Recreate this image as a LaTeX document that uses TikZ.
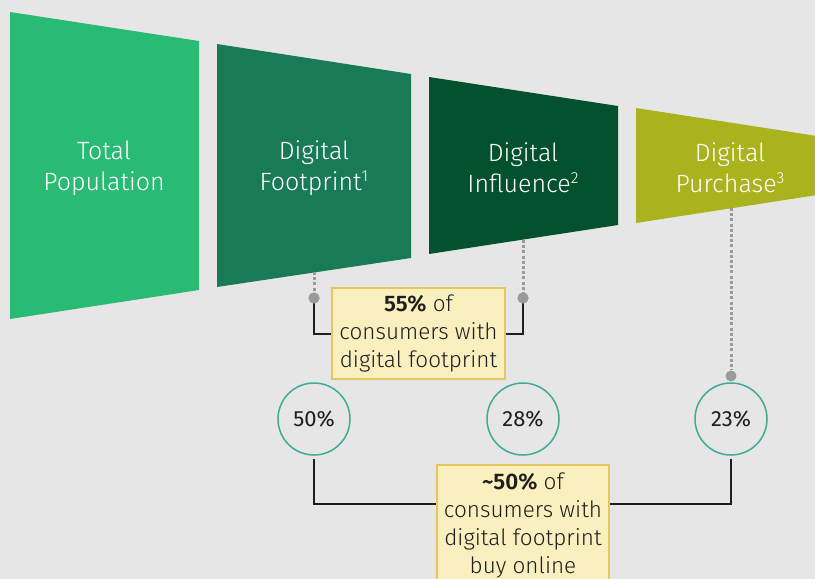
\documentclass[tikz,border=0pt]{standalone}
\usepackage{fontspec}
\setmainfont{Fira Sans}[UprightFont={* Light}, BoldFont={* SemiBold}]
\newfontfamily\regfont{Fira Sans}
\usetikzlibrary{calc}
\definecolor{bg}{HTML}{E6E6E6}
\definecolor{fa}{HTML}{29BA74}
\definecolor{fb}{HTML}{197A56}
\definecolor{fc}{HTML}{03522D}
\definecolor{fd}{HTML}{AAB31E}
\definecolor{boxfill}{HTML}{FAEFBF}
\definecolor{boxline}{HTML}{E5C75E}
\definecolor{ring}{HTML}{3EAD92}
\definecolor{dotgray}{HTML}{9A9A9A}
\definecolor{ink}{HTML}{1E1E1E}
\newcommand{\supnum}[1]{\raisebox{0.36em}{\fontsize{16}{16}\selectfont #1}}
\begin{document}
\begin{tikzpicture}[x=1pt,y=-1pt,
  funlabel/.style={text=white, align=center, font=\fontsize{25}{31}\selectfont},
  callout/.style={draw=boxline, line width=1.5pt, fill=boxfill, text=ink, align=center,
    font=\fontsize{22.5}{28}\selectfont, inner sep=2pt},
  ringnode/.style={circle, draw=ring, line width=1.5pt, minimum size=72pt, inner sep=0pt,
    text=ink, font=\regfont\fontsize{22}{25}\selectfont},
  dotnode/.style={circle, fill=dotgray, minimum size=11pt, inner sep=0pt},
  dotline/.style={dotgray, line width=3pt, dash pattern=on 3pt off 2.2pt},
  link/.style={ink, line width=2pt}]
\useasboundingbox (0,0) rectangle (815,579);
\clip (0,0) rectangle (815,579);
\fill[bg] (0,0) rectangle (815,579);
% funnel segments
\fill[fa] (10,12) -- (199,41) -- (199,290) -- (10,319) -- cycle;
\fill[fb] (217,44) -- (411,74) -- (411,258) -- (217,287) -- cycle;
\fill[fc] (429,77) -- (618,106) -- (618,225) -- (429,254) -- cycle;
\fill[fd] (636,108) -- (830,138) -- (830,193) -- (636,223) -- cycle;
% labels
\node[funlabel] (tp) at (104,168) {Total\\Population};
\node[funlabel] (df) at (314,168) {Digital\\Footprint\supnum{1}};
\node[funlabel] (di) at (523,168) {Digital\\Influence\supnum{2}};
\node[funlabel] (dp) at (730,168) {Digital\\Purchase\supnum{3}};
% anchor points on funnel bottoms
\coordinate (fbot) at (314,272);
\coordinate (ibot) at (523,240);
\coordinate (pbot) at (731,208);
% dots
\node[dotnode] (d1) at (314,298) {};
\node[dotnode] (d2) at (523,298) {};
\node[dotnode] (d3) at (731,376) {};
% callout 1
\node[callout, minimum width=173pt, minimum height=91pt] (b1) at (418.5,333.5)
  {\textbf{55\%} of\\consumers with\\digital footprint};
% rings
\node[ringnode] (r50) at (314,419) {50\%};
\node[ringnode] (r28) at (523,419) {28\%};
\node[ringnode] (r23) at (731,419) {23\%};
% callout 2
\node[callout, minimum width=172pt, minimum height=122pt, anchor=north] (b2) at (523,464)
  {\textbf{\textasciitilde50\%} of\\consumers with\\digital footprint\\buy online};
% connectors
\draw[dotline] (fbot) -- (d1);
\draw[dotline] (ibot) -- (d2);
\draw[dotline] (pbot) -- (d3);
\draw[link] (d1.center) |- (b1.west);
\draw[link] (d2.center) |- (b1.east);
\draw[link] ([yshift=-3pt]r50.south) |- ([yshift=-40pt]b2.north west);
\draw[link] ([yshift=-3pt]r23.south) |- ([yshift=-40pt]b2.north east);
\node[dotnode] at (d1) {};
\node[dotnode] at (d2) {};
\end{tikzpicture}
\end{document}
